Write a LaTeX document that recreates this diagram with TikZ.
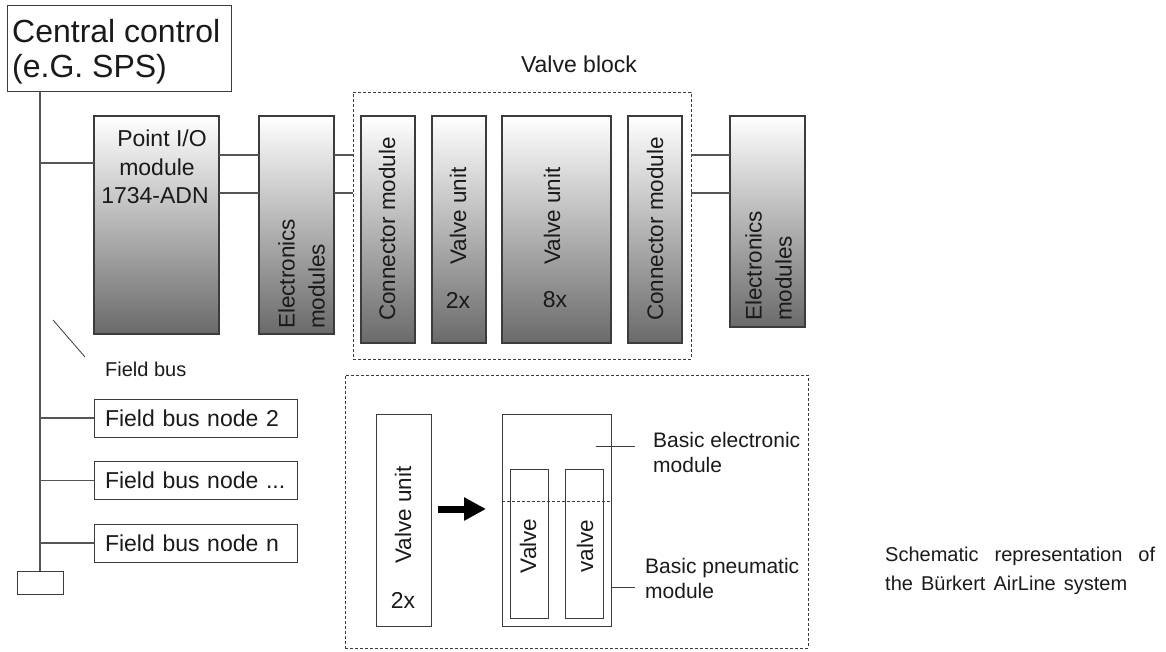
\documentclass[tikz,border=0pt]{standalone}
\usepackage{fontspec}
\setmainfont{Liberation Sans}
\usetikzlibrary{arrows.meta}
\definecolor{ln}{HTML}{555555}
\definecolor{bd}{HTML}{3C3C3C}
\definecolor{shd}{HTML}{6A6A6A}
\definecolor{tx}{HTML}{1A1A1A}
\begin{document}
\begin{tikzpicture}[x=1pt,y=-1pt,
  every node/.style={text=tx},
  gbox/.style={draw=bd, line width=1.1pt, top color=white, bottom color=shd, inner sep=0pt, outer sep=0pt},
  wbox/.style={draw=bd, line width=0.9pt, fill=white, inner sep=0pt, outer sep=0pt},
  dbox/.style={draw=bd, line width=0.8pt, dash pattern=on 3pt off 2pt, inner sep=0pt, outer sep=0pt},
  conn/.style={draw=ln, line width=1.1pt},
  thin/.style={draw=bd, line width=0.8pt},
  vtext/.style={rotate=90, font=\fontsize{22.5}{30}\selectfont, inner sep=0pt, align=left},
  mtext/.style={font=\fontsize{23}{29}\selectfont, inner sep=0pt},
  fbox/.style={wbox, minimum width=203pt, minimum height=38pt, text width=181pt, align=left, font=\fontsize{23}{27}\selectfont},
  lbl/.style={font=\fontsize{21}{25}\selectfont, inner sep=0pt, align=left},
  captxt/.style={anchor=base west, inner sep=0pt, font=\fontsize{20}{24}\selectfont},
  fatarrow/.style={draw=black, line width=7pt, -{Triangle[length=22pt,width=22pt]}}
]
\useasboundingbox (0,0) rectangle (1166,651);

% central control
\node[wbox, minimum width=224pt, minimum height=86pt] (cc) at (119,48) {};
\node[anchor=base west, inner sep=0pt, font=\fontsize{32}{36}\selectfont] (cct1) at (12,42) {Central control};
\node[anchor=base west, inner sep=0pt, font=\fontsize{32}{36}\selectfont] (cct2) at (12,77) {(e.G. SPS)};

% bus
\node[wbox, minimum width=46pt, minimum height=23pt] (term) at (40,582.5) {};
\coordinate (bustop) at (40,91);
\draw[conn] (bustop) -- (term.north);

% upper row
\node[gbox, minimum width=125pt, minimum height=218pt] (pio) at (156.5,225) {};
\node[mtext, anchor=base] (piot1) at (162,146) {Point I/O};
\node[mtext, anchor=base] (piot2) at (157,175) {module};
\node[mtext, anchor=base] (piot3) at (155,203) {1734-ADN};
\node[gbox, minimum width=75pt, minimum height=218pt] (em1) at (296.5,225) {};
\node[vtext, anchor=south west] (em1t) at (325,329) {Electronics\\modules};

\node[dbox, minimum width=338pt, minimum height=267pt] (vb) at (522,225.5) {};
\node[font=\fontsize{23}{27}\selectfont, inner sep=0pt, anchor=base] (vbt) at (579,72) {Valve block};

\node[gbox, minimum width=54pt, minimum height=227pt] (cm1) at (388,229.5) {};
\node[vtext] (cm1t) at (387,229) {Connector module};
\node[gbox, minimum width=54pt, minimum height=227pt] (vu1) at (459,229.5) {};
\node[vtext] (vu1t) at (458,216) {Valve unit};
\node[mtext] (vu1n) at (458,300) {2x};
\node[gbox, minimum width=109pt, minimum height=227pt] (vu8) at (556.5,229.5) {};
\node[vtext] (vu8t) at (552,216) {Valve unit};
\node[mtext] (vu8n) at (555,300) {8x};
\node[gbox, minimum width=54pt, minimum height=227pt] (cm2) at (655,229.5) {};
\node[vtext] (cm2t) at (655,229) {Connector module};

\node[gbox, minimum width=75pt, minimum height=211pt] (em2) at (767.5,221.5) {};
\node[vtext, anchor=south west] (em2t) at (792,321) {Electronics\\modules};

\coordinate (ya) at (0,155);
\coordinate (yb) at (0,193);
\coordinate (yp) at (0,163);
\draw[conn] (bustop |- yp) -- (pio.west |- yp);
\draw[conn] (pio.east |- ya) -- (em1.west |- ya);
\draw[conn] (pio.east |- yb) -- (em1.west |- yb);
\draw[conn] (em1.east |- ya) -- (vb.west |- ya);
\draw[conn] (em1.east |- yb) -- (vb.west |- yb);
\draw[conn] (vb.east |- ya) -- (em2.west |- ya);
\draw[conn] (vb.east |- yb) -- (em2.west |- yb);

% field bus
\coordinate (fb1) at (53,320);
\coordinate (fb2) at (85,357);
\draw[thin] (fb1) -- (fb2);
\node[anchor=base west, inner sep=0pt, font=\fontsize{20}{24}\selectfont] (fbt) at (105,376) {Field bus};

\node[fbox] (fn2) at (195.5,418) {Field bus node 2};
\node[fbox] (fn3) at (195.5,480.5) {Field bus node ...};
\node[fbox] (fnn) at (195.5,543) {Field bus node n};
\draw[conn] (fn2.west -| bustop) -- (fn2.west);
\draw[conn] (fn3.west -| bustop) -- (fn3.west);
\draw[conn] (fnn.west -| bustop) -- (fnn.west);

% lower detail
\node[dbox, minimum width=463pt, minimum height=273pt] (lb) at (576.5,511.5) {};
\node[wbox, minimum width=55pt, minimum height=212pt] (vu2) at (403.5,520) {};
\node[vtext] (vu2t) at (403,515) {Valve unit};
\node[mtext] (vu2n) at (403,600) {2x};
\node[wbox, minimum width=109pt, minimum height=212pt] (bm) at (556.5,520) {};
\node[wbox, minimum width=38pt, minimum height=149pt] (v1) at (529,543.5) {};
\node[vtext] (v1t) at (528,546) {Valve};
\node[wbox, minimum width=38pt, minimum height=149pt] (v2) at (584,543.5) {};
\node[vtext] (v2t) at (585,546) {valve};
\coordinate (dy) at (0,501);
\draw[thin, dash pattern=on 3pt off 2pt] (bm.west |- dy) -- (bm.east |- dy);
\coordinate (ay) at (0,509);
\draw[fatarrow, shorten <=7pt, shorten >=16pt] (vu2.east |- ay) -- (bm.west |- ay);

\coordinate (le1) at (596,446);
\coordinate (le2) at (635,446);
\draw[thin] (le1) -- (le2);
\node[lbl, anchor=north west] (bel) at (653,432) {Basic electronic\\module};
\coordinate (lp) at (0,587);
\coordinate (lp2) at (635,587);
\draw[thin] (bm.east |- lp) -- (lp2);
\node[lbl, anchor=north west] (bpl) at (645,558) {Basic pneumatic\\module};

% caption
\node[captxt] (cap1) at (885,561) {\makebox[270pt][s]{Schematic representation of}};
\node[captxt] (cap2) at (885,590) {\makebox[242pt][s]{the Bürkert AirLine system}};
\end{tikzpicture}
\end{document}
